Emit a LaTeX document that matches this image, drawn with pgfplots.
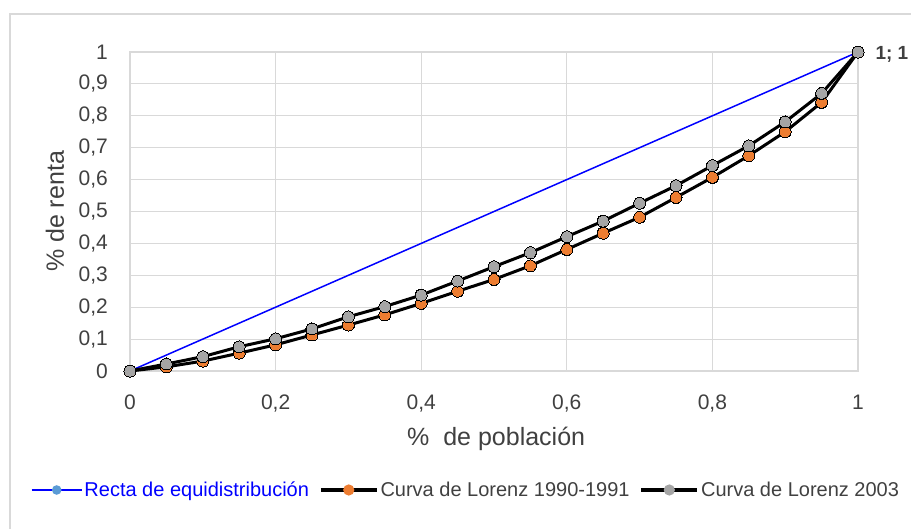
\documentclass[border=0pt]{standalone}
\usepackage{pgfplots}
\pgfplotsset{compat=1.18}
\usepackage{fontspec}
\setmainfont{Liberation Sans}
\definecolor{txt}{HTML}{404040}
\definecolor{gridc}{HTML}{D9D9D9}
\definecolor{orng}{HTML}{ED7D31}
\definecolor{gry}{HTML}{A5A5A5}
\definecolor{lblue}{HTML}{5B9BD5}
\definecolor{eqblue}{HTML}{0000FF}
\begin{document}
\begin{tikzpicture}[x=1pt,y=1pt]
\useasboundingbox (-130,-157) rectangle (781,371);
\draw[gridc, line width=1.2pt] (-120,-160) -- (-120,357) -- (790,357);
\begin{axis}[
    at={(0,0)}, anchor=origin,
    scale only axis,
    width=728pt, height=319pt,
    xmin=0, xmax=1, ymin=0, ymax=1,
    xtick={0,0.2,0.4,0.6,0.8,1},
    xticklabels={0,{0,2},{0,4},{0,6},{0,8},1},
    ytick={0,0.1,0.2,0.3,0.4,0.5,0.6,0.7,0.8,0.9,1},
    yticklabels={0,{0,1},{0,2},{0,3},{0,4},{0,5},{0,6},{0,7},{0,8},{0,9},1},
    major tick length=0pt,
    grid=major,
    grid style={gridc, line width=1pt},
    axis line style={gridc, line width=1.2pt},
    ticklabel style={font=\fontsize{21}{24}\selectfont, text=txt},
    yticklabel style={inner sep=0pt, xshift=-22pt},
    xticklabel style={inner sep=0pt, yshift=-24pt},
    xlabel={\%\ \ de población},
    ylabel={\% de renta},
    label style={font=\fontsize{25}{28}\selectfont, text=txt},
    xlabel style={at={(axis description cs:0.503,0)}, anchor=center, yshift=-68pt},
    ylabel style={at={(axis description cs:-0.103,0.5)}, anchor=center},
    legend columns=3,
    legend style={at={(axis description cs:0.4615,-0.373)}, anchor=center,
        draw=none, fill=none, font=\fontsize{20}{23}\selectfont, text=txt,
        inner sep=0pt,
        /tikz/every even column/.append style={column sep=8pt}},
    legend cell align=left,
    clip=false,
]
\addplot[eqblue, line width=1.5pt, mark=none,
    legend image code/.code={
        \draw[eqblue, line width=1.5pt] (0pt,0pt) -- (50pt,0pt);
        \fill[lblue] (25pt,0pt) circle (4pt);}]
    coordinates {(0,0)(1,1)};
\addlegendentry{\textcolor{eqblue}{Recta de equidistribución}}
\addplot[black, line width=3pt, mark=*, mark size=6pt,
    mark options={draw=none, fill=orng, line width=0pt},
    legend image code/.code={
        \draw[black, line width=3.5pt] (0pt,0pt) -- (56pt,0pt);
        \fill[orng] (28pt,0pt) circle (4pt);}]
    coordinates {
    (0,0)(0.05,0.013)(0.1,0.031)(0.15,0.056)(0.2,0.082)(0.25,0.113)
    (0.3,0.144)(0.35,0.176)(0.4,0.212)(0.45,0.250)(0.5,0.287)
    (0.55,0.330)(0.6,0.381)(0.65,0.432)(0.7,0.482)(0.75,0.544)
    (0.8,0.607)(0.85,0.675)(0.9,0.750)(0.95,0.842)(1,1)
    };
\addlegendentry{Curva de Lorenz 1990-1991}
\addplot[black, line width=3pt, mark=*, mark size=6pt,
    mark options={draw=none, fill=gry, line width=0pt},
    legend image code/.code={
        \draw[black, line width=3.5pt] (0pt,0pt) -- (56pt,0pt);
        \fill[gry] (28pt,0pt) circle (4pt);}]
    coordinates {
    (0,0)(0.05,0.022)(0.1,0.045)(0.15,0.076)(0.2,0.101)(0.25,0.132)
    (0.3,0.170)(0.35,0.202)(0.4,0.238)(0.45,0.282)(0.5,0.327)
    (0.55,0.371)(0.6,0.421)(0.65,0.470)(0.7,0.526)(0.75,0.581)
    (0.8,0.644)(0.85,0.706)(0.9,0.781)(0.95,0.870)(1,1)
    };
\addlegendentry{Curva de Lorenz 2003}
\node[anchor=west, text=txt, font=\bfseries\fontsize{19}{22}\selectfont, xshift=14pt, yshift=-2pt] at (axis cs:1,1) {1; 1};
\end{axis}
\end{tikzpicture}
\end{document}
